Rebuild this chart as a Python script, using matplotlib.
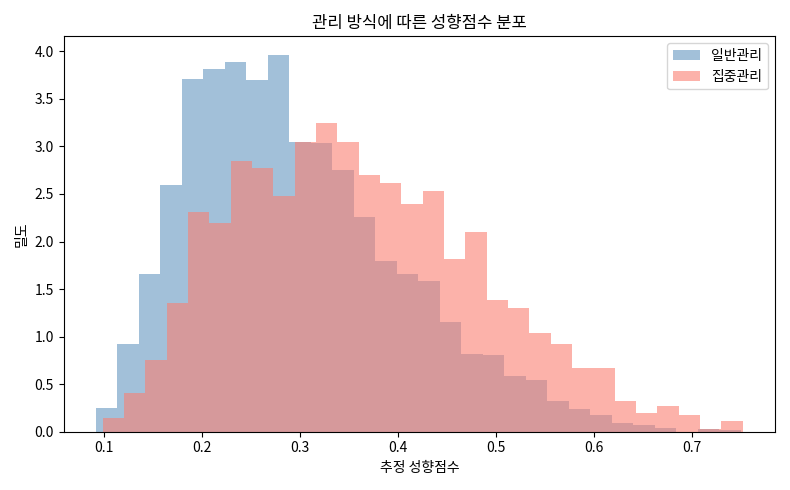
import numpy as np
import matplotlib
matplotlib.use("Agg")
import matplotlib.pyplot as plt

plt.rcParams['font.family'] = ['Noto Sans CJK KR', 'DejaVu Sans']
plt.rcParams['axes.unicode_minus'] = False

labels = ['일반관리', '집중관리']
blue_range = (0.0916, 0.7497)
red_range = (0.0985, 0.7518)
blue_heights = [0.25, 0.92, 1.66, 2.59, 3.71, 3.81, 3.89, 3.70, 3.96, 3.05,
                3.04, 2.75, 2.26, 1.80, 1.66, 1.59, 1.15, 0.82, 0.81, 0.585,
                0.544, 0.318, 0.236, 0.174, 0.092, 0.072, 0.041, 0.0, 0.031, 0.02]
red_heights = [0.14, 0.41, 0.75, 1.35, 2.31, 2.19, 2.85, 2.77, 2.48, 3.05,
               3.25, 3.05, 2.70, 2.62, 2.39, 2.53, 1.815, 2.10, 1.385, 1.30,
               1.035, 0.92, 0.667, 0.667, 0.318, 0.20, 0.267, 0.174, 0.03, 0.113]

fig, ax = plt.subplots(figsize=(7.9, 4.9), dpi=100)
for heights, rng, color, alpha, lab in [
        (blue_heights, blue_range, 'steelblue', 0.5, labels[0]),
        (red_heights, red_range, 'salmon', 0.6, labels[1])]:
    edges = np.linspace(rng[0], rng[1], len(heights) + 1)
    centers = (edges[:-1] + edges[1:]) / 2
    ax.hist(centers, bins=edges, weights=heights, color=color, alpha=alpha, label=lab)

ax.set_title('관리 방식에 따른 성향점수 분포')
ax.set_xlabel('추정 성향점수')
ax.set_ylabel('밀도')
ax.legend(loc='upper right')
fig.tight_layout()
fig.savefig('out.png')
